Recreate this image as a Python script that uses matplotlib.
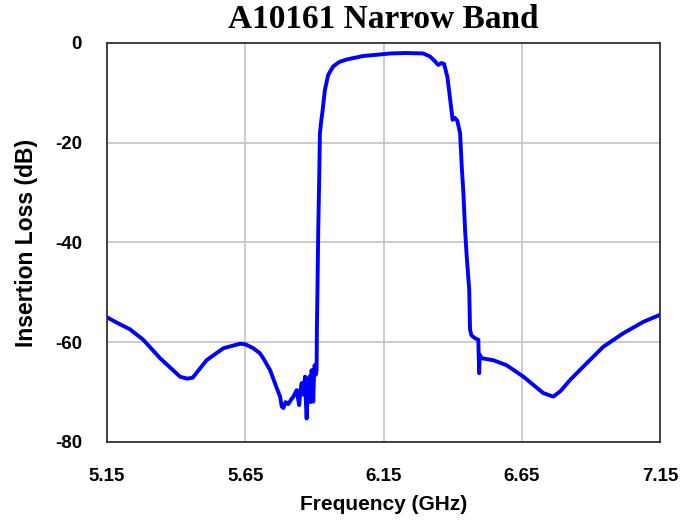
import matplotlib
matplotlib.use("Agg")
import matplotlib.pyplot as plt

plt.rcParams["axes.unicode_minus"] = False

freq_ghz = [5.150, 5.190, 5.233, 5.281, 5.342, 5.414, 5.440, 5.460, 5.510, 5.571, 5.631,
            5.650, 5.679, 5.703, 5.715, 5.740, 5.764, 5.776, 5.782, 5.788, 5.796, 5.806,
            5.816, 5.824, 5.836, 5.840, 5.845, 5.850, 5.854, 5.860, 5.866, 5.869, 5.872,
            5.876, 5.882, 5.886, 5.890, 5.893, 5.896, 5.899, 5.901, 5.905, 5.908, 5.909,
            5.911, 5.914, 5.918, 5.920, 5.925, 5.930, 5.938, 5.950, 5.968, 5.990, 6.017,
            6.077, 6.137, 6.174, 6.230, 6.294, 6.318, 6.335, 6.348, 6.360, 6.369, 6.381,
            6.390, 6.400, 6.408, 6.417, 6.427, 6.433, 6.439, 6.445, 6.451, 6.460, 6.463,
            6.468, 6.481, 6.493, 6.494, 6.496, 6.498, 6.505, 6.547, 6.595, 6.656, 6.728,
            6.764, 6.790, 6.824, 6.885, 6.945, 7.017, 7.090, 7.150]
loss_db = [-55.0, -56.2, -57.4, -59.5, -63.2, -66.9, -67.3, -67.1, -63.6, -61.2, -60.3,
           -60.4, -61.2, -62.2, -63.2, -65.6, -69.2, -70.9, -72.9, -73.2, -72.0, -72.4,
           -71.5, -70.9, -69.6, -71.0, -72.6, -69.5, -68.2, -70.5, -66.9, -71.5, -75.3,
           -70.0, -66.9, -72.0, -65.6, -69.0, -71.9, -66.0, -64.6, -66.5, -65.6, -57.5,
           -50.2, -37.5, -25.5, -18.1, -15.5, -13.4, -9.4, -6.4, -4.7, -3.8, -3.3,
           -2.6, -2.3, -2.1, -2.0, -2.1, -2.7, -3.6, -4.4, -4.0, -4.2, -6.8,
           -10.8, -15.4, -15.0, -15.6, -18.1, -24.8, -30.1, -37.5, -42.8, -49.5, -57.5,
           -58.6, -59.2, -59.5, -62.0, -66.2, -62.5, -63.2, -63.6, -64.6, -66.9, -70.2,
           -70.9, -69.8, -67.6, -64.2, -60.9, -58.2, -55.9, -54.5]

x_ticks = [5.15, 5.65, 6.15, 6.65, 7.15]
x_tick_labels = ["5.15", "5.65", "6.15", "6.65", "7.15"]
y_ticks = [0, -20, -40, -60, -80]

fig = plt.figure(figsize=(6.99, 5.20), dpi=100)
ax = fig.add_axes([107/699, 78/520, 553/699, 399/520])

ax.plot(freq_ghz, loss_db, color="#0000ff", lw=2.8, solid_joinstyle="round")

ax.set_xlim(5.15, 7.15)
ax.set_ylim(-80, 0)
ax.set_xticks(x_ticks)
ax.set_xticklabels(x_tick_labels)
ax.set_yticks(y_ticks)
ax.grid(True, color="#c8c8c8", lw=1.3)
ax.set_axisbelow(True)
ax.tick_params(length=0, labelsize=13.5)
ax.tick_params(axis="x", pad=19)
ax.tick_params(axis="y", pad=18)
for lab in ax.get_xticklabels() + ax.get_yticklabels():
    lab.set_fontfamily("Liberation Sans")
    lab.set_fontweight("bold")
for sp in ax.spines.values():
    sp.set_color("#333333")
    sp.set_linewidth(1.3)

ax.set_xlabel("Frequency (GHz)", fontsize=15, fontweight="bold",
              family="Liberation Sans", labelpad=7)
ax.set_ylabel("Insertion Loss (dB)", fontsize=16.5, fontweight="bold",
              family="Liberation Sans", labelpad=12)
fig.text(383.5/699, 1 - 19/520, "A10161 Narrow Band", ha="center", va="center",
         fontsize=24, fontweight="bold", family="Liberation Serif")

fig.savefig("out.png", dpi=100)
